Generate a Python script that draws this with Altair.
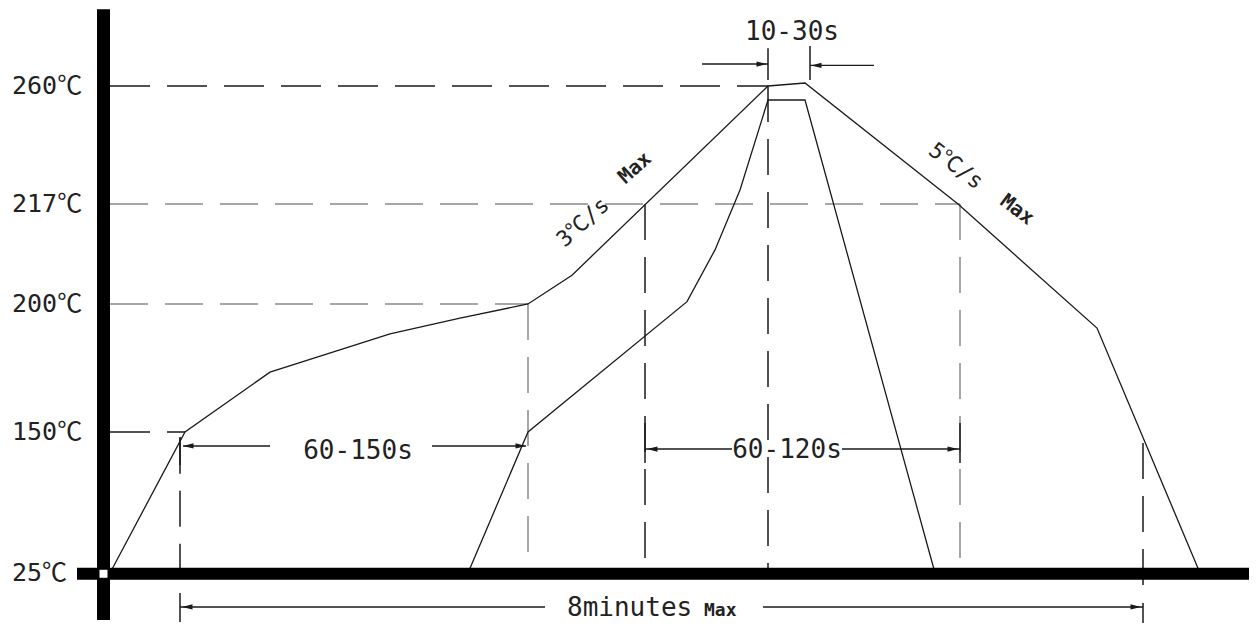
import altair as alt
import pandas as pd

# ---- profile curves (time in s, temperature in degC) ----
outer_t = [0, 37.5, 80, 140, 175, 209, 231, 329, 347.5, 424, 493.5, 545]
outer_temp = [25, 150, 173.4, 188.3, 194.5, 200, 204.9, 260, 261.1, 217, 190.6, 25]
inner_t = [179, 209, 288.5, 302.5, 315, 329, 347.5, 412.5]
inner_temp = [25, 150, 200.4, 209.2, 222.1, 254.9, 254.9, 25]

# ---- temperature levels ----
tick_labels = ["260℃", "217℃", "200℃", "150℃", "25℃"]
tick_temps = [260, 217, 200, 150, 25]
level_black_temp = [260, 150]
level_black_end = [329, 37.5]
level_gray_temp = [217, 200]
level_gray_end = [425, 209]

# ---- vertical guide lines ----
vline_black_t = [35, 267.5, 329, 516.5]
vline_black_top = [145, 217, 260, 140.2]
vline_black_bottom = [25, 25, 25, 14.4]
vline_gray_t = [209, 425]
vline_gray_top = [200, 217]
vline_gray_bottom = [25, 25]

# ---- dimension annotations ----
tick_t = [35, 35, 516.5, 267.5, 425, 329, 350]
tick_top = [145.6, 7.3, -1.6, 153.5, 153.5, 273.8, 274.6]
tick_bottom = [120.7, -18.4, -26.4, 122.5, 122.5, 262.2, 262.2]
dim_t0 = [296, 350, 36.5, 161, 267.5, 366, 35, 326.5]
dim_t1 = [329, 382, 80, 208, 311, 425, 217.5, 516.5]
dim_temp = [268, 267.5, 137.6, 137.6, 134.9, 134.9, -5.1, -5.1]
arrow_left_t = [36.5, 268.5, 36, 350.5]
arrow_left_temp = [137.6, 134.9, -5.1, 267.5]
arrow_right_t = [208, 424, 515.5, 328.5]
arrow_right_temp = [137.6, 134.9, -5.1, 268]

span_labels = ["10-30s", "60-150s", "60-120s"]
span_t = [341, 124, 338.5]
span_temp = [279.7, 133.2, 134.0]
total_label = ["8minutes"]
total_t = [228.5]
total_temp = [-13.1]
max_label = ["Max"]
max_t = [297]
max_temp = [-13.1]

rate_up_label = ["3℃/s"]
rate_up_t = [236.5]
rate_up_temp = [213.9]
rate_up_max_t = [262.5]
rate_up_max_temp = [230.1]
rate_down_label = ["5℃/s"]
rate_down_t = [423]
rate_down_temp = [230.8]
rate_down_max_t = [453.5]
rate_down_max_temp = [216.0]

# axis bars / origin
axis_v_t = [-3.25]
axis_v_top = [288]
axis_v_bottom = [-16.7]
axis_h_t0 = [-16.5]
axis_h_t1 = [575]
axis_h_temp = [24.3]

X = alt.Scale(domain=[-51, 569.5], range=[0, 1241], nice=False, zero=False)
Y = alt.Scale(domain=[25, 150, 200, 217, 260], range=[565, 424, 296, 196, 78],
              nice=False, zero=False)


def xq(f):
    return alt.X(f"{f}:Q", scale=X, axis=None)


def yq(f):
    return alt.Y(f"{f}:Q", scale=Y, axis=None)


FONT = "DejaVu Sans Mono, Noto Sans CJK SC"
INK = "#1a1a1a"

curves = pd.DataFrame({
    "t": outer_t + inner_t,
    "temp": outer_temp + inner_temp,
    "curve": ["outer"] * len(outer_t) + ["inner"] * len(inner_t),
    "order": list(range(len(outer_t))) + list(range(len(inner_t))),
})
curve_layer = alt.Chart(curves).mark_line(color=INK, strokeWidth=1.3).encode(
    x=xq("t"), y=yq("temp"), detail="curve:N", order="order:Q")

lb = pd.DataFrame({"t0": [0] * 2, "t1": level_black_end, "temp": level_black_temp})
lg = pd.DataFrame({"t0": [0] * 2, "t1": level_gray_end, "temp": level_gray_temp})
lev_black = alt.Chart(lb).mark_rule(color=INK, strokeWidth=1.5, strokeDash=[40, 17]).encode(
    x=xq("t0"), x2="t1:Q", y=yq("temp"))
lev_gray = alt.Chart(lg).mark_rule(color="#8a8a8a", strokeWidth=1.5, strokeDash=[38, 17]).encode(
    x=xq("t0"), x2="t1:Q", y=yq("temp"))

vb = pd.DataFrame({"t": vline_black_t, "top": vline_black_top, "bot": vline_black_bottom})
vg = pd.DataFrame({"t": vline_gray_t, "top": vline_gray_top, "bot": vline_gray_bottom})
v_black = alt.Chart(vb).mark_rule(color=INK, strokeWidth=1.5, strokeDash=[36, 17]).encode(
    x=xq("t"), y=yq("top"), y2="bot:Q")
v_gray = alt.Chart(vg).mark_rule(color="#8a8a8a", strokeWidth=1.5, strokeDash=[36, 17]).encode(
    x=xq("t"), y=yq("top"), y2="bot:Q")

tk = pd.DataFrame({"t": tick_t, "top": tick_top, "bot": tick_bottom})
ticks = alt.Chart(tk).mark_rule(color=INK, strokeWidth=1.5).encode(
    x=xq("t"), y=yq("top"), y2="bot:Q")

dm = pd.DataFrame({"t0": dim_t0, "t1": dim_t1, "temp": dim_temp})
dims = alt.Chart(dm).mark_rule(color=INK, strokeWidth=1.4).encode(
    x=xq("t0"), x2="t1:Q", y=yq("temp"))

al = pd.DataFrame({"t": arrow_left_t, "temp": arrow_left_temp})
ar = pd.DataFrame({"t": arrow_right_t, "temp": arrow_right_temp})
arr_l = alt.Chart(al).mark_point(shape="M0,0L2,-0.5L2,0.5Z", filled=True, size=110,
                                 color=INK, opacity=1).encode(x=xq("t"), y=yq("temp"))
arr_r = alt.Chart(ar).mark_point(shape="M0,0L-2,-0.5L-2,0.5Z", filled=True, size=110,
                                 color=INK, opacity=1).encode(x=xq("t"), y=yq("temp"))

av = pd.DataFrame({"t": axis_v_t, "top": axis_v_top, "bot": axis_v_bottom})
ah = pd.DataFrame({"t0": axis_h_t0, "t1": axis_h_t1, "temp": axis_h_temp})
axis_v = alt.Chart(av).mark_rule(color="#000", strokeWidth=13).encode(
    x=xq("t"), y=yq("top"), y2="bot:Q")
axis_h = alt.Chart(ah).mark_rule(color="#000", strokeWidth=12).encode(
    x=xq("t0"), x2="t1:Q", y=yq("temp"))
origin = alt.Chart(pd.DataFrame({"t": axis_v_t, "temp": axis_h_temp})).mark_square(
    color="white", size=64, opacity=1, strokeWidth=0).encode(x=xq("t"), y=yq("temp"))

lab = pd.DataFrame({"label": tick_labels, "temp": tick_temps, "t": [-49] * 5})
labels = alt.Chart(lab).mark_text(font=FONT, fontSize=25, align="left", baseline="middle",
                                  color="#222").encode(x=xq("t"), y=yq("temp"), text="label:N")

sp = pd.DataFrame({"label": span_labels, "t": span_t, "temp": span_temp})
spans = alt.Chart(sp).mark_text(font=FONT, fontSize=26, align="center", baseline="middle",
                                color="#222").encode(x=xq("t"), y=yq("temp"), text="label:N")

tot = pd.DataFrame({"label": total_label, "t": total_t, "temp": total_temp})
total = alt.Chart(tot).mark_text(font=FONT, fontSize=26, align="left", baseline="alphabetic",
                                 color="#222").encode(x=xq("t"), y=yq("temp"), text="label:N")
mx = pd.DataFrame({"label": max_label, "t": max_t, "temp": max_temp})
maxt = alt.Chart(mx).mark_text(font=FONT, fontSize=18, fontWeight="bold", align="left",
                               baseline="alphabetic", color="#222").encode(
    x=xq("t"), y=yq("temp"), text="label:N")

ru = pd.DataFrame({"label": rate_up_label, "t": rate_up_t, "temp": rate_up_temp})
rate_up = alt.Chart(ru).mark_text(font=FONT, fontSize=22, angle=318, align="center",
                                  baseline="middle", color="#222").encode(
    x=xq("t"), y=yq("temp"), text="label:N")
rum = pd.DataFrame({"label": max_label, "t": rate_up_max_t, "temp": rate_up_max_temp})
rate_up_max = alt.Chart(rum).mark_text(font=FONT, fontSize=20, fontWeight="bold", angle=318,
                                       align="center", baseline="middle", color="#222").encode(
    x=xq("t"), y=yq("temp"), text="label:N")
rd = pd.DataFrame({"label": rate_down_label, "t": rate_down_t, "temp": rate_down_temp})
rate_down = alt.Chart(rd).mark_text(font=FONT, fontSize=22, angle=37, align="center",
                                    baseline="middle", color="#222").encode(
    x=xq("t"), y=yq("temp"), text="label:N")
rdm = pd.DataFrame({"label": max_label, "t": rate_down_max_t, "temp": rate_down_max_temp})
rate_down_max = alt.Chart(rdm).mark_text(font=FONT, fontSize=20, fontWeight="bold", angle=37,
                                         align="center", baseline="middle", color="#222").encode(
    x=xq("t"), y=yq("temp"), text="label:N")

chart = alt.layer(
    lev_black, lev_gray, v_black, v_gray, ticks, dims, arr_l, arr_r,
    curve_layer, axis_v, axis_h, origin,
    labels, spans, total, maxt, rate_up, rate_up_max, rate_down, rate_down_max,
).properties(
    width=1241, height=615, padding=0, autosize=alt.AutoSizeParams(type="none"),
    background="white",
).configure_view(stroke=None)

chart.save("out.html", embed_options={"renderer": "svg", "actions": False})
